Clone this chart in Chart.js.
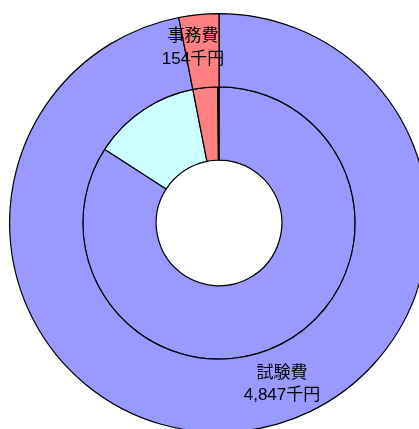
<!DOCTYPE html>
<html>
<head>
<meta charset="utf-8">
<script src="https://cdn.jsdelivr.net/npm/chart.js@4"></script>
<style>
html,body{margin:0;padding:0;background:#fff;overflow:hidden;width:419px;height:429px;}
#wrap{position:absolute;left:9px;top:13px;width:420px;height:420px;}
</style>
</head>
<body>
<div id="wrap"><canvas id="c" width="420" height="420"></canvas></div>
<script>
// Outer ring
const outerCategories = ['試験費', '事務費'];
const outerValues = [4847, 154];
// Inner ring
const innerCategories = ['試験費A', '試験費B', '事務費', 'その他'];
const innerValues = [4207, 640, 147, 7];
const unit = '千円';

const outerColors = ['#9999FF', '#FF8080'];
const innerColors = ['#9999FF', '#CCFFFF', '#FF8080', '#000000'];

const labelPlugin = {
  id: 'ringLabels',
  afterDatasetsDraw(chart, args, opts) {
    const ctx = chart.ctx;
    const arc = chart.getDatasetMeta(0).data[0];
    const cx = arc.x, cy = arc.y;
    ctx.save();
    ctx.fillStyle = '#000';
    ctx.font = '17px "Liberation Sans", "Noto Sans CJK JP", sans-serif';
    ctx.textAlign = 'center';
    ctx.textBaseline = 'middle';
    opts.anchors.forEach((a, i) => {
      const name = outerCategories[i];
      const val = outerValues[i].toLocaleString('en-US') + unit;
      ctx.fillText(name, cx + a[0], cy + a[1]);
      ctx.fillText(val, cx + a[0], cy + a[1] + a[2]);
    });
    ctx.restore();
  }
};

new Chart(document.getElementById('c'), {
  type: 'doughnut',
  data: {
    labels: outerCategories,
    datasets: [
      { data: outerValues, backgroundColor: outerColors, borderColor: '#000', borderWidth: 1.2 },
      { data: innerValues, labels: innerCategories, backgroundColor: innerColors, borderColor: '#000', borderWidth: 1.2 }
    ]
  },
  options: {
    responsive: false,
    animation: false,
    cutout: '30%',
    layout: { padding: 0 },
    plugins: {
      legend: { display: false },
      tooltip: { enabled: false },
      ringLabels: { anchors: [[63, 150, 22], [-26, -187, 23]] }
    }
  },
  plugins: [labelPlugin]
});
</script>
</body>
</html>
